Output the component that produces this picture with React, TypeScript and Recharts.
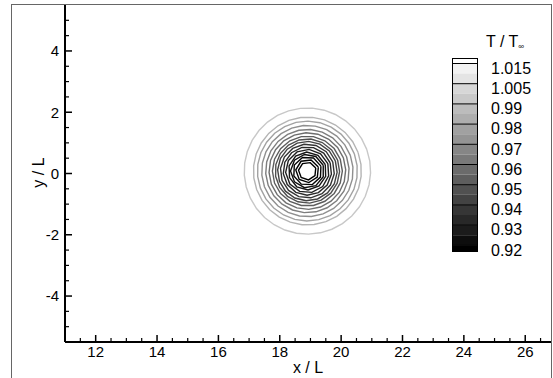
import { LineChart, Line, XAxis, YAxis, Legend, Label } from 'recharts';

// vortex centre and contour rings (x/L, y/L units)
const vortexCenter = { x: 18.9, y: 0.08 };
const contourLevels = [0.995, 0.99, 0.985, 0.98, 0.975, 0.97, 0.965, 0.96, 0.955, 0.95, 0.945, 0.94, 0.935, 0.93, 0.925, 0.92, 0.915];
const contourRadii = [2.06, 1.76, 1.63, 1.49, 1.36, 1.25, 1.14, 1.05, 0.97, 0.88, 0.79, 0.71, 0.62, 0.55, 0.47, 0.38, 0.29];

const xMajorTicks = [12, 14, 16, 18, 20, 22, 24, 26];
const yMajorTicks = [-4, -2, 0, 2, 4];
const legendLabels = ['1.015', '1.005', '0.99', '0.98', '0.97', '0.96', '0.95', '0.94', '0.93', '0.92'];

const FONT = '"Liberation Sans", Arial, Helvetica, sans-serif';

// colour bar geometry
const BAR_X = 452.5;
const BAR_W = 25;
const BAR_TOP = 58.5;
const BAR_BOTTOM = 251.5;
const LINE0 = 63.5;
const LINE_STEP = 20.2;
const BAND_H = LINE_STEP / 2;
const N_BANDS = 20;

const halfSteps = (from: number, to: number) => {
  const out: number[] = [];
  for (let v = from; v <= to + 1e-9; v += 0.5) out.push(Math.round(v * 10) / 10);
  return out;
};
const xTicks = halfSteps(11.5, 26.5);
const yTicks = halfSteps(-5, 5);

const bandGray = (k: number) => {
  const g = Math.round(Math.max(0, Math.min(255, 255 * (1 - k / (N_BANDS - 1)))));
  return `rgb(${g},${g},${g})`;
};

// contour line shade: light grey for the outermost level, black at the core
const levelColor = (v: number) => {
  const lo = contourLevels[contourLevels.length - 1];
  const hi = contourLevels[0];
  const t = Math.max(0, Math.min(1, (v - lo) / (hi - lo)));
  const g = Math.round(200 * Math.pow(t, 1.6));
  return `rgb(${g},${g},${g})`;
};

function ringPoints(r: number) {
  const n = Math.max(7, Math.round(r * 16));
  const pts: { x: number; y: number }[] = [];
  for (let i = 0; i <= n; i++) {
    const a = 0.35 + (2 * Math.PI * i) / n;
    pts.push({ x: vortexCenter.x + r * Math.cos(a), y: vortexCenter.y + r * Math.sin(a) });
  }
  return pts;
}

const rings = contourLevels.map((lev, i) => ({
  level: lev,
  color: levelColor(lev),
  points: ringPoints(contourRadii[i]),
}));

const XTick = (props: any) => {
  const { x, y, payload } = props;
  const major = xMajorTicks.includes(payload.value);
  return (
    <g>
      <line x1={x} x2={x} y1={y} y2={y - (major ? 7 : 4)} stroke="#000" strokeWidth={major ? 1.5 : 1.2} />
      {major && (
        <text x={x} y={y + 15} textAnchor="middle" fontSize={15} fontFamily={FONT} fill="#000">
          {payload.value}
        </text>
      )}
    </g>
  );
};

const YTick = (props: any) => {
  const { x, y, payload } = props;
  const major = yMajorTicks.includes(payload.value);
  return (
    <g>
      <line x1={x} x2={x + (major ? 7 : 4)} y1={y} y2={y} stroke="#000" strokeWidth={major ? 1.5 : 1.2} />
      {major && (
        <text x={x - 6} y={y + 5.3} textAnchor="end" fontSize={15} fontFamily={FONT} fill="#000">
          {payload.value}
        </text>
      )}
    </g>
  );
};

const Colorbar = () => {
  const bands = [];
  for (let k = 0; k < N_BANDS; k++) {
    const top = k === 0 ? BAR_TOP : LINE0 + (k - 1) * BAND_H;
    const bottom = k === 0 ? LINE0 : k === N_BANDS - 1 ? BAR_BOTTOM : LINE0 + k * BAND_H;
    bands.push(<rect key={k} x={BAR_X} y={top} width={BAR_W} height={bottom - top} fill={bandGray(k)} />);
  }
  return (
    <svg width={553} height={378} style={{ position: 'absolute', left: 0, top: 0 }}>
      <text x={486} y={46.5} fontSize={16} fontFamily={FONT} fill="#000">
        T / T<tspan fontSize={8} dy={2}>∞</tspan>
      </text>
      {bands}
      {legendLabels.map((lab, i) => (
        <g key={lab}>
          <line x1={BAR_X} x2={BAR_X + BAR_W} y1={LINE0 + i * LINE_STEP} y2={LINE0 + i * LINE_STEP} stroke="#000" strokeWidth={1} />
          <text x={491} y={LINE0 + i * LINE_STEP + 10.2} fontSize={16} fontFamily={FONT} fill="#000">
            {lab}
          </text>
        </g>
      ))}
      <rect x={BAR_X} y={BAR_TOP} width={BAR_W} height={BAR_BOTTOM - BAR_TOP} fill="none" stroke="#000" strokeWidth={1} />
    </svg>
  );
};

export default function App() {
  return (
    <div style={{ position: 'absolute', left: 0, top: 0, width: 553, height: 378, overflow: 'hidden', background: '#fff' }}>
      <div
        style={{
          position: 'absolute', left: 10.5, top: 4, width: 541, height: 420,
          border: '1.5px solid #666', boxSizing: 'border-box',
        }}
      />
      <div style={{ position: 'absolute', left: 0, top: 0 }}>
        <LineChart width={553} height={378} margin={{ top: 5, right: 2, left: 0, bottom: 0 }}>
          <XAxis
            type="number"
            dataKey="x"
            domain={[11, 26.84]}
            allowDataOverflow
            ticks={xTicks}
            interval={0}
            tick={<XTick />}
            tickLine={false}
            tickSize={0}
            tickMargin={0}
            height={36}
            axisLine={{ stroke: '#000', strokeWidth: 2 }}
          >
            <Label
              content={() => (
                <text x={308} y={373} textAnchor="middle" fontSize={16} fontFamily={FONT} fill="#000">
                  x / L
                </text>
              )}
            />
          </XAxis>
          <YAxis
            type="number"
            domain={[-5.5, 5.5]}
            allowDataOverflow
            ticks={yTicks}
            interval={0}
            tick={<YTick />}
            tickLine={false}
            tickSize={0}
            tickMargin={0}
            width={65}
            axisLine={{ stroke: '#000', strokeWidth: 2 }}
          >
            <Label
              content={() => (
                <text
                  x={44}
                  y={172.5}
                  transform="rotate(-90 44 172.5)"
                  textAnchor="middle"
                  fontSize={16}
                  fontFamily={FONT}
                  fill="#000"
                >
                  y / L
                </text>
              )}
            />
          </YAxis>
          <Legend
            layout="vertical"
            align="center"
            verticalAlign="middle"
            content={() => <Colorbar />}
            wrapperStyle={{ left: 0, top: 0, width: 553, height: 378, pointerEvents: 'none' }}
          />
          {rings.map((ring) => (
            <Line
              key={ring.level}
              data={ring.points}
              dataKey="y"
              type="linear"
              stroke={ring.color}
              strokeWidth={1.4}
              dot={false}
              activeDot={false}
              isAnimationActive={false}
            />
          ))}
        </LineChart>
      </div>
    </div>
  );
}
